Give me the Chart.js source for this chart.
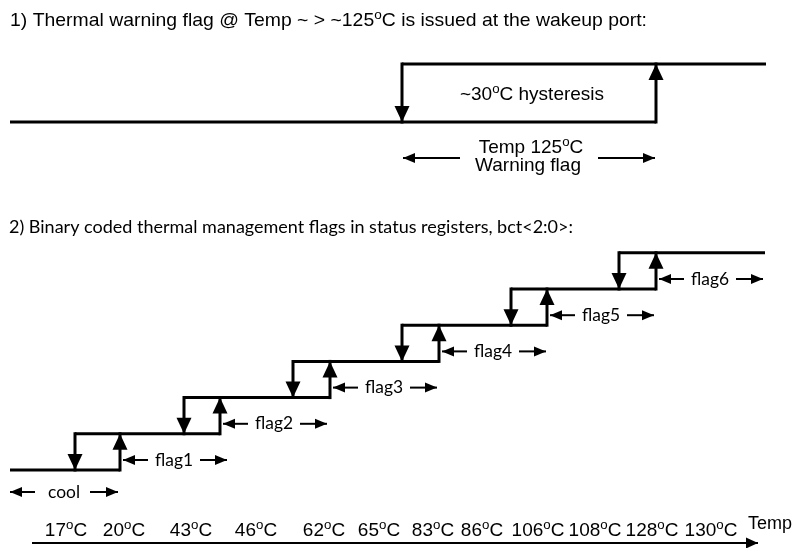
<!DOCTYPE html>
<html>
<head>
<meta charset="utf-8">
<script src="https://cdn.jsdelivr.net/npm/chart.js@4.4.1/dist/chart.umd.min.js"></script>
<style>
  html, body { margin: 0; padding: 0; background: #fff; }
  #wrap { width: 798px; height: 548px; }
</style>
</head>
<body>
<div id="wrap"><canvas id="chart" width="798" height="548"></canvas></div>
<script>
// ---- data ----
const title1 = "1) Thermal warning flag @ Temp ~ > ~125°C is issued at the wakeup port:";
const title2 = "2) Binary coded thermal management flags in status registers, bct<2:0>:";

// part 1: single warning flag (0 = off, 1 = on)
const warnLevels = [0, 1];
const warnTexts = ["~30°C hysteresis", "Temp 125°C", "Warning flag"];

// part 2: binary coded flags, level 0 = cool
const flagNames = ["flag1", "flag2", "flag3", "flag4", "flag5", "flag6"];
const flagLevels = [1, 2, 3, 4, 5, 6];
const fallTemps = [17, 43, 62, 83, 106, 128];
const riseTemps = [20, 46, 65, 86, 108, 130];
const tempTicks = [17, 20, 43, 46, 62, 65, 83, 86, 106, 108, 128, 130];

// ---- layout (diagram x units, pixel offsets) ----
const W = 798, H = 548;
const warnX = { start: 10, fall: 402, rise: 656, end: 766 };
const warnY = { low: 122, high: 64 };
const stairX = {
  start: 10, end: 765,
  fall: [75, 184, 293, 402, 511, 619],
  rise: [120, 220, 330, 439, 547, 656]
};
const stairY = { base: 470, step: 36.2 };
const tickCenters = [66, 124, 191, 256, 324, 379, 433, 482, 538, 595, 652, 711];

const ARIAL = '"Liberation Sans", Arial, sans-serif';
const CALIBRI = 'Lato, "Noto Sans", sans-serif';

// ---- datasets ----
const datasets = [];
function seg(points, yAxisID, width, extra) {
  datasets.push(Object.assign({
    data: points,
    xAxisID: "x",
    yAxisID: yAxisID,
    borderColor: "#000",
    borderWidth: width,
    borderCapStyle: "butt",
    borderJoinStyle: "miter",
    pointRadius: 0,
    tension: 0,
    fill: false
  }, extra || {}));
}
const bigHead = { len: 16, half: 7.5 };
const smallHead = { len: 12, half: 5 };

// part 1
const lo = warnLevels[0], hi = warnLevels[1];
seg([{ x: warnX.start, y: lo }, { x: warnX.rise, y: lo }], "yTop", 3);
seg([{ x: warnX.fall, y: hi }, { x: warnX.end, y: hi }], "yTop", 3);
seg([{ x: warnX.fall, y: hi }, { x: warnX.fall, y: lo }], "yTop", 3, { borderCapStyle: "square", arrow: bigHead });
seg([{ x: warnX.rise, y: lo }, { x: warnX.rise, y: hi }], "yTop", 3, { borderCapStyle: "square", arrow: bigHead });
const spanY = -36 / (warnY.low - warnY.high);
seg([{ x: 460, y: spanY }, { x: warnX.fall + 1, y: spanY }], "yTop", 2, { arrow: smallHead });
seg([{ x: 598, y: spanY }, { x: warnX.rise - 1, y: spanY }], "yTop", 2, { arrow: smallHead });

// part 2
seg([{ x: stairX.start, y: 0 }, { x: stairX.rise[0], y: 0 }], "yStair", 3);
flagLevels.forEach((lv, i) => {
  const fx = stairX.fall[i], rx = stairX.rise[i];
  const endX = i + 1 < flagLevels.length ? stairX.rise[i + 1] : stairX.end;
  seg([{ x: fx, y: lv }, { x: endX, y: lv }], "yStair", 3);
  seg([{ x: fx, y: lv }, { x: fx, y: lv - 1 }], "yStair", 3, { borderCapStyle: "square", arrow: bigHead });
  seg([{ x: rx, y: lv - 1 }, { x: rx, y: lv }], "yStair", 3, { borderCapStyle: "square", arrow: bigHead });
  const ay = lv - 1 + 10 / stairY.step;
  seg([{ x: rx + 28, y: ay }, { x: rx + 3, y: ay }], "yStair", 2, { arrow: smallHead });
  seg([{ x: rx + 80, y: ay }, { x: rx + 107, y: ay }], "yStair", 2, { arrow: smallHead });
});
const coolY = -22 / stairY.step;
seg([{ x: 35, y: coolY }, { x: 10, y: coolY }], "yStair", 2, { arrow: smallHead });
seg([{ x: 90, y: coolY }, { x: 118, y: coolY }], "yStair", 2, { arrow: smallHead });
const axisY = -73 / stairY.step;
seg([{ x: 32, y: axisY }, { x: 758, y: axisY }], "yStair", 2, { arrow: { len: 12, half: 5.5 } });

// ---- plugins ----
function drawRich(ctx, str, x, y, size, family, align, fitW) {
  const base = size + "px " + family;
  const sup = (size * 0.7).toFixed(1) + "px " + family;
  const pieces = [];
  let w = 0;
  str.split("°").forEach((p, i) => {
    if (i > 0) {
      ctx.font = sup;
      const sw = ctx.measureText("o").width;
      pieces.push({ t: "o", f: sup, dy: -size * 0.37, w: sw });
      w += sw;
    }
    ctx.font = base;
    const pw = ctx.measureText(p).width;
    pieces.push({ t: p, f: base, dy: 0, w: pw });
    w += pw;
  });
  const sx = fitW ? fitW / w : 1;
  const x0 = align === "center" ? x - (w * sx) / 2 : x;
  ctx.save();
  ctx.translate(x0, y);
  ctx.scale(sx, 1);
  ctx.fillStyle = "#000";
  ctx.textAlign = "left";
  ctx.textBaseline = "alphabetic";
  let cx = 0;
  pieces.forEach(pc => {
    ctx.font = pc.f;
    ctx.fillText(pc.t, cx, pc.dy);
    cx += pc.w;
  });
  ctx.restore();
}

const arrowHeads = {
  id: "arrowHeads",
  afterDatasetsDraw(chart) {
    const ctx = chart.ctx;
    chart.data.datasets.forEach((ds, i) => {
      if (!ds.arrow) return;
      const pts = chart.getDatasetMeta(i).data;
      const a = pts[pts.length - 2], b = pts[pts.length - 1];
      const ang = Math.atan2(b.y - a.y, b.x - a.x);
      ctx.save();
      ctx.translate(b.x, b.y);
      ctx.rotate(ang);
      ctx.beginPath();
      ctx.moveTo(0, 0);
      ctx.lineTo(-ds.arrow.len, -ds.arrow.half);
      ctx.lineTo(-ds.arrow.len, ds.arrow.half);
      ctx.closePath();
      ctx.fillStyle = "#000";
      ctx.fill();
      ctx.restore();
    });
  }
};

const labels = {
  id: "labels",
  afterDraw(chart) {
    const ctx = chart.ctx;
    const xs = chart.scales.x, yt = chart.scales.yTop, ys = chart.scales.yStair;
    // part 1
    drawRich(ctx, title1, 10, 26, 19, ARIAL, "left", 637);
    drawRich(ctx, warnTexts[0], xs.getPixelForValue(532), yt.getPixelForValue(0.5) + 7, 19, ARIAL, "center");
    drawRich(ctx, warnTexts[1], xs.getPixelForValue(531), yt.getPixelForValue(spanY) - 5, 19, ARIAL, "center");
    drawRich(ctx, warnTexts[2], xs.getPixelForValue(528), yt.getPixelForValue(spanY) + 13, 19, ARIAL, "center");
    // part 2
    drawRich(ctx, title2, 9, 233, 18, CALIBRI, "left", 564);
    flagLevels.forEach((lv, i) => {
      const rx = stairX.rise[i];
      const y = ys.getPixelForValue(lv - 1 + 10 / stairY.step) + 5.5;
      drawRich(ctx, flagNames[i], xs.getPixelForValue(rx + 54), y, 18, CALIBRI, "center", 38);
    });
    drawRich(ctx, "cool", xs.getPixelForValue(64), ys.getPixelForValue(coolY) + 6, 18, CALIBRI, "center", 32);
    tempTicks.forEach((t, i) => {
      drawRich(ctx, t + "°C", xs.getPixelForValue(tickCenters[i]), 536, 19, ARIAL, "center");
    });
    drawRich(ctx, "Temp", 748, 529, 18, ARIAL, "left");
  }
};

new Chart(document.getElementById("chart"), {
  type: "line",
  data: { datasets: datasets },
  options: {
    responsive: false,
    animation: false,
    events: [],
    layout: { padding: 0 },
    plugins: { legend: { display: false }, tooltip: { enabled: false } },
    scales: {
      x: { type: "linear", min: 0, max: W, display: false },
      yTop: {
        type: "linear", display: false,
        min: -(H - warnY.low) / (warnY.low - warnY.high),
        max: warnY.low / (warnY.low - warnY.high)
      },
      yStair: {
        type: "linear", display: false,
        min: -(H - stairY.base) / stairY.step,
        max: stairY.base / stairY.step
      }
    }
  },
  plugins: [arrowHeads, labels]
});
</script>
</body>
</html>
